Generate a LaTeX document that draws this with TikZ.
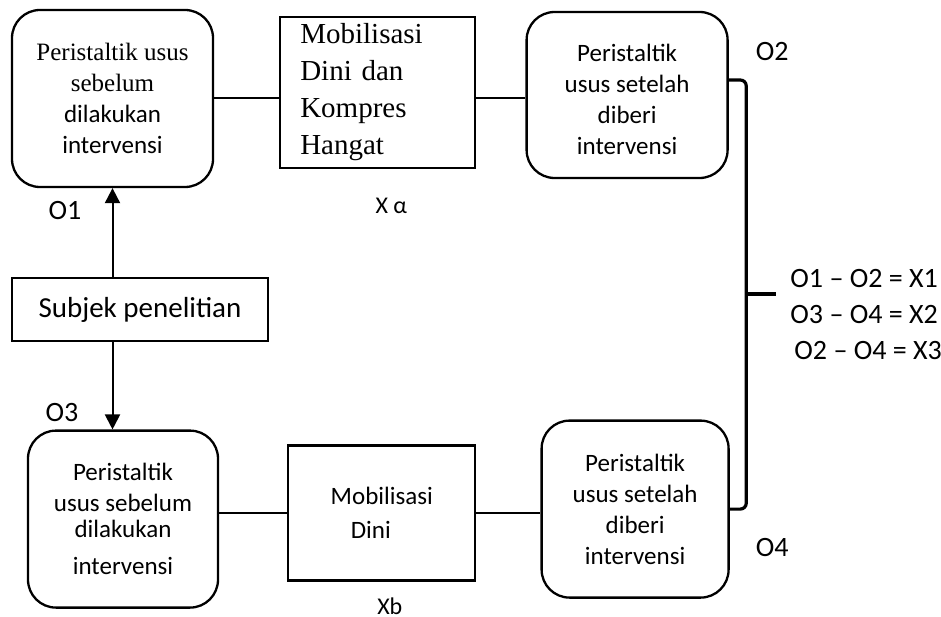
\documentclass[tikz,border=0pt]{standalone}
\usepackage{fontspec}
\setmainfont{Carlito}
\newfontfamily\timesfont{Liberation Serif}
\usepackage{tikz}
\usetikzlibrary{positioning}
\usetikzlibrary{calc}
\usetikzlibrary{arrows.meta}

\tikzset{
  obs/.style={draw, rounded corners=28pt, line width=2.3pt, inner sep=0pt, align=center, font=\fontsize{25}{31}\selectfont},
  perlakuan/.style={draw, rectangle, line width=2.3pt, inner sep=0pt, align=center},
  lbl/.style={inner sep=0pt, font=\fontsize{28}{36}\selectfont},
  garis/.style={line width=2pt},
  kurung/.style={line width=3.2pt, rounded corners=6pt},
  panah/.style={-{Triangle[length=15pt, width=15pt]}},
}

\begin{document}
\begin{tikzpicture}[x=1pt, y=-1pt]
    \useasboundingbox (0,0) rectangle (941,617);

    % Define nodes
    \node[obs, minimum width=201pt, minimum height=177pt] (pra1) at (112.5,98.5) {{\timesfont Peristaltik usus}\\{\timesfont sebelum}\\dilakukan\\intervensi};
    \node[perlakuan, minimum width=195pt, minimum height=151pt, text width=155pt, align=left, font=\timesfont\fontsize{29}{37}\selectfont, right=65pt of pra1, yshift=6pt] (intv1) {Mobilisasi\\Dini dan\\Kompres\\Hangat};
    \node[obs, minimum width=201pt, minimum height=166pt, right=49pt of intv1, yshift=-2.5pt] (pasca1) {\rule{0pt}{26pt}Peristaltik\\usus setelah\\diberi\\intervensi};
    \node[perlakuan, minimum width=256pt, minimum height=63pt, font=\fontsize{29}{35}\selectfont, below=89pt of pra1, xshift=27.5pt] (subjek) {Subjek penelitian};
    \node[obs, minimum width=190pt, minimum height=177pt, below=87pt of subjek, xshift=-17pt] (pra2) {Peristaltik\\usus sebelum\\[-5pt]dilakukan\\[6pt]intervensi};
    \node[perlakuan, minimum width=187pt, minimum height=135pt, font=\fontsize{25}{34}\selectfont, right=68pt of pra2, yshift=6pt] (intv2) {Mobilisasi\\Dini\hspace*{22pt}};
    \node[obs, minimum width=187pt, minimum height=177pt, right=64pt of intv2, yshift=4pt] (pasca2) {Peristaltik\\usus setelah\\diberi\\intervensi};

    % Labels
    \node[lbl, below=13pt of pra1, xshift=-47.5pt] (o1) {O1};
    \node[lbl, font=\fontsize{24}{28}\selectfont, below=29pt of intv1, xshift=13.5pt] (xa) {X α};
    \node[lbl, right=27pt of pasca1, yshift=43pt] (o2) {O2};
    \node[lbl, above=8pt of pra2, xshift=-61pt] (o3) {O3};
    \node[lbl, font=\fontsize{24}{28}\selectfont, below=16pt of intv2, xshift=8pt] (xb) {Xb};
    \node[lbl, right=26pt of pasca2, yshift=-38.5pt] (o4) {O4};

    \coordinate (brace) at ($(pasca1.east)!0.5!(pasca2.east)+(17pt,8pt)$);
    \coordinate[right=30pt of brace] (ujung);
    \node[lbl, align=center, right=10pt of ujung, yshift=-20pt] (rumus) {O1 – O2 = X1\\O3 – O4 = X2\\\hspace*{8pt}O2 – O4 = X3};

    % Connect the nodes
    \draw[garis] (pra1.east) -- (pra1.east -| intv1.west);
    \draw[garis] (intv1.east |- pra1.east) -- (pasca1.west |- pra1.east);
    \draw[garis, panah] (subjek.north -| pra1.south) -- (pra1.south);
    \draw[garis, panah] (subjek.south -| pra1.south) -- (pra2.north -| pra1.south);
    \draw[garis] (pra2.east |- intv2.west) -- (intv2.west);
    \draw[garis] (intv2.east) -- (intv2.east -| pasca2.west);
    \draw[kurung] ([yshift=15pt]pasca1.east) -| (brace |- pasca2.east) -- (pasca2.east);
    \draw[kurung] (brace) -- (ujung);

  \end{tikzpicture}
\end{document}
